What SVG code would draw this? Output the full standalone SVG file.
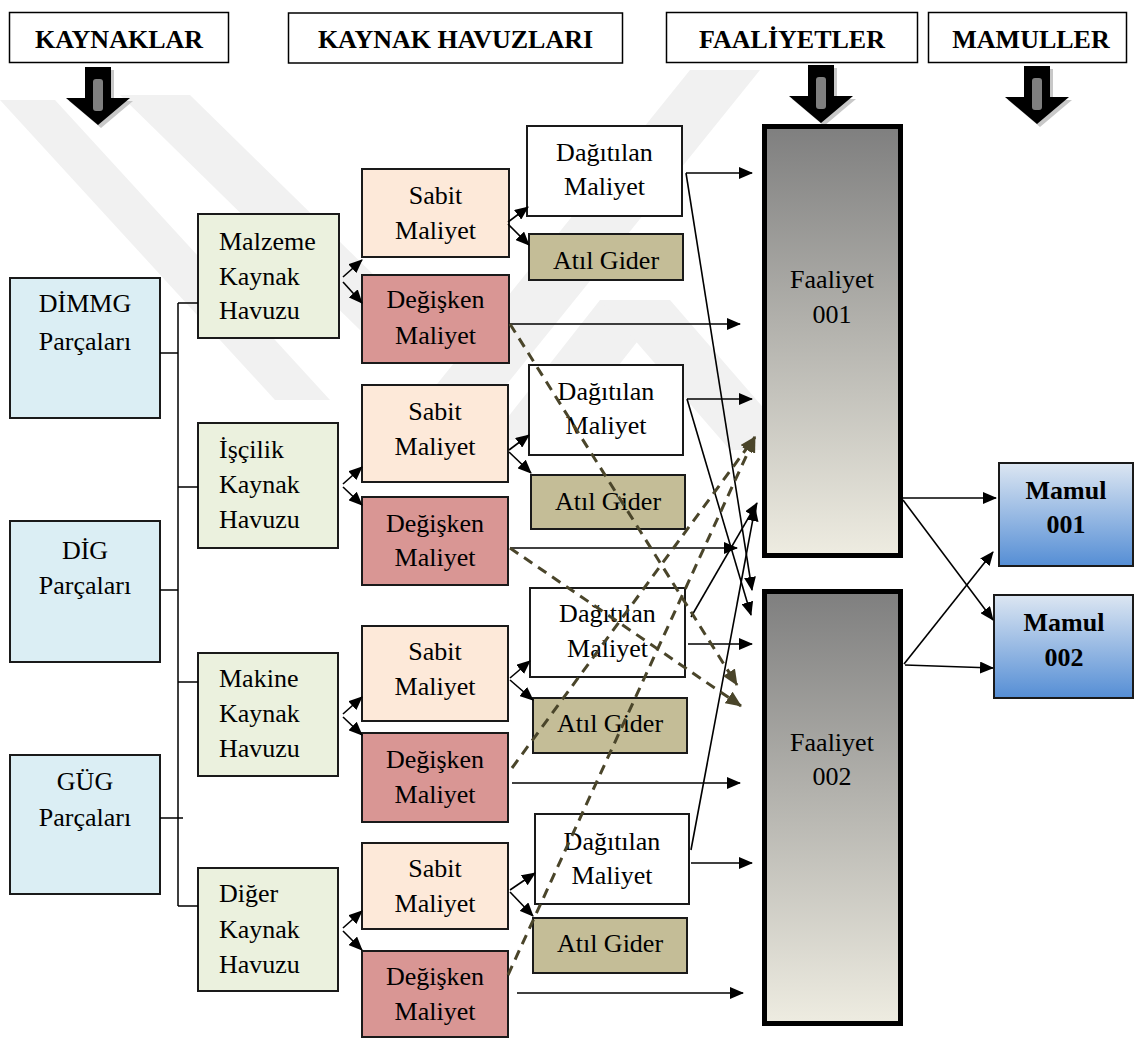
<svg xmlns="http://www.w3.org/2000/svg" width="1135" height="1039" viewBox="0 0 1135 1039">
  <defs>
    <style>
      text { font-family: "Liberation Serif", "Times New Roman", serif; font-size: 26px; fill: #000; }
      .c { text-anchor: middle; }
      .b { font-weight: bold; }
      .hdr { fill: #fff; stroke: #000; stroke-width: 1.5; }
      .box { stroke: #1a1a1a; stroke-width: 2; }
      .src { fill: #DBEEF4; }
      .pool { fill: #EBF1DE; }
      .fix { fill: #FDE9D9; }
      .var { fill: #D99694; }
      .dist { fill: #fff; }
      .idle { fill: #C4BD97; }
      .act { stroke: #000; stroke-width: 5; fill: url(#actGrad); }
      .prod { stroke: #1a1a1a; stroke-width: 2; fill: url(#prodGrad); }
      .bus { stroke: #000; stroke-width: 1.5; fill: none; }
      .ln { stroke: #000; stroke-width: 1.6; fill: none; marker-end: url(#ah); }
      .dl { stroke: #4A452A; stroke-width: 3; stroke-dasharray: 10 7; fill: none; marker-end: url(#ahd); }
      .wm { fill: #F1F1F1; }
    </style>
    <linearGradient id="actGrad" x1="0" y1="0" x2="0" y2="1">
      <stop offset="0" stop-color="#7F7F7F"/>
      <stop offset="1" stop-color="#EEECE1"/>
    </linearGradient>
    <linearGradient id="prodGrad" x1="0" y1="0" x2="0" y2="1">
      <stop offset="0" stop-color="#DCE6F2"/>
      <stop offset="1" stop-color="#558ED5"/>
    </linearGradient>
    <marker id="ah" markerUnits="userSpaceOnUse" viewBox="0 0 14 12" refX="13" refY="6" markerWidth="14" markerHeight="12" orient="auto">
      <path d="M0,0 L14,6 L0,12 Z" fill="#000"/>
    </marker>
    <marker id="ahd" markerUnits="userSpaceOnUse" viewBox="0 0 16 14" refX="15" refY="7" markerWidth="16" markerHeight="14" orient="auto">
      <path d="M0,0 L16,7 L0,14 Z" fill="#4A452A"/>
    </marker>
    <!-- downward block arrow, origin at top centre of the shaft -->
    <g id="blockArrow">
      <path d="M-13,0 H13 V31 H32 L0,58 L-32,31 H-13 Z" fill="#C8C8C8" transform="translate(3,3)"/>
      <path d="M-13,0 H13 V31 H32 L0,58 L-32,31 H-13 Z" fill="#000"/>
      <rect x="-5" y="12" width="10" height="32" rx="3" fill="#7F7F7F"/>
    </g>
  </defs>

  <rect width="1135" height="1039" fill="#fff"/>

  <!-- faint background watermark bands -->
  <g id="watermark">
    <polygon class="wm" points="0,100 55,100 330,400 275,400"/>
    <polygon class="wm" points="120,95 190,95 430,330 360,330"/>
    <polygon class="wm" points="690,70 760,70 470,430 400,430"/>
    <polygon class="wm" points="600,300 670,300 560,440 490,440"/>
    <polygon class="wm" points="600,300 670,300 800,450 730,450"/>
  </g>

  <!-- column headers -->
  <g id="hdr-kaynaklar">
    <rect class="hdr" x="9.5" y="12.5" width="219" height="50"/>
    <text class="c b" x="119" y="48">KAYNAKLAR</text>
  </g>
  <g id="hdr-havuzlar">
    <rect class="hdr" x="288.5" y="13" width="334" height="50"/>
    <text class="c b" x="455.5" y="48">KAYNAK HAVUZLARI</text>
  </g>
  <g id="hdr-faaliyetler">
    <rect class="hdr" x="666.5" y="12.5" width="251" height="50"/>
    <text class="c b" x="792" y="48">FAALİYETLER</text>
  </g>
  <g id="hdr-mamuller">
    <rect class="hdr" x="928.5" y="12.5" width="198" height="50"/>
    <text class="c b" x="1031" y="48">MAMULLER</text>
  </g>
  <use href="#blockArrow" transform="translate(98,67)"/>
  <use href="#blockArrow" transform="translate(821,65)"/>
  <use href="#blockArrow" transform="translate(1037,66)"/>

  <!-- resources -->
  <g id="src-dimmg">
    <rect class="box src" x="10" y="278" width="150" height="140"/>
    <text class="c" x="85" y="312">DİMMG</text>
    <text class="c" x="85" y="350">Parçaları</text>
  </g>
  <g id="src-dig">
    <rect class="box src" x="10" y="521" width="150" height="141"/>
    <text class="c" x="85" y="559">DİG</text>
    <text class="c" x="85" y="594">Parçaları</text>
  </g>
  <g id="src-gug">
    <rect class="box src" x="10" y="755" width="150" height="139"/>
    <text class="c" x="85" y="790">GÜG</text>
    <text class="c" x="85" y="826">Parçaları</text>
  </g>

  <!-- resource pools -->
  <g id="pool-malzeme">
    <rect class="box pool" x="198" y="214" width="141" height="124"/>
    <text x="219" y="250">Malzeme</text>
    <text x="219" y="285">Kaynak</text>
    <text x="219" y="319">Havuzu</text>
  </g>
  <g id="pool-iscilik">
    <rect class="box pool" x="198" y="423" width="140" height="125"/>
    <text x="219" y="458">İşçilik</text>
    <text x="219" y="493">Kaynak</text>
    <text x="219" y="528">Havuzu</text>
  </g>
  <g id="pool-makine">
    <rect class="box pool" x="198" y="653" width="140" height="123"/>
    <text x="219" y="687">Makine</text>
    <text x="219" y="722">Kaynak</text>
    <text x="219" y="757">Havuzu</text>
  </g>
  <g id="pool-diger">
    <rect class="box pool" x="198" y="868" width="140" height="123"/>
    <text x="219" y="902">Diğer</text>
    <text x="219" y="938">Kaynak</text>
    <text x="219" y="973">Havuzu</text>
  </g>

  <!-- fixed / variable costs -->
  <g id="fix-1">
    <rect class="box fix" x="362" y="169" width="147" height="88"/>
    <text class="c" x="435.5" y="204">Sabit</text>
    <text class="c" x="435.5" y="239">Maliyet</text>
  </g>
  <g id="var-1">
    <rect class="box var" x="362" y="275" width="147" height="88"/>
    <text class="c" x="435.5" y="308">Değişken</text>
    <text class="c" x="435.5" y="344">Maliyet</text>
  </g>
  <g id="fix-2">
    <rect class="box fix" x="362" y="385" width="146" height="97"/>
    <text class="c" x="435" y="420">Sabit</text>
    <text class="c" x="435" y="455">Maliyet</text>
  </g>
  <g id="var-2">
    <rect class="box var" x="362" y="497" width="146" height="88"/>
    <text class="c" x="435" y="532">Değişken</text>
    <text class="c" x="435" y="566">Maliyet</text>
  </g>
  <g id="fix-3">
    <rect class="box fix" x="362" y="626" width="146" height="95"/>
    <text class="c" x="435" y="660">Sabit</text>
    <text class="c" x="435" y="695">Maliyet</text>
  </g>
  <g id="var-3">
    <rect class="box var" x="362" y="733" width="146" height="89"/>
    <text class="c" x="435" y="768">Değişken</text>
    <text class="c" x="435" y="803">Maliyet</text>
  </g>
  <g id="fix-4">
    <rect class="box fix" x="362" y="843" width="146" height="86"/>
    <text class="c" x="435" y="877">Sabit</text>
    <text class="c" x="435" y="912">Maliyet</text>
  </g>
  <g id="var-4">
    <rect class="box var" x="362" y="951" width="146" height="86"/>
    <text class="c" x="435" y="985">Değişken</text>
    <text class="c" x="435" y="1020">Maliyet</text>
  </g>

  <!-- distributed cost / idle expense -->
  <g id="dist-1">
    <rect class="box dist" x="527" y="126" width="155" height="90"/>
    <text class="c" x="604.5" y="161">Dağıtılan</text>
    <text class="c" x="604.5" y="195">Maliyet</text>
  </g>
  <g id="idle-1">
    <rect class="box idle" x="529" y="234" width="154" height="46"/>
    <text class="c" x="606" y="269">Atıl Gider</text>
  </g>
  <g id="dist-2">
    <rect class="box dist" x="529" y="365" width="154" height="90"/>
    <text class="c" x="606" y="400">Dağıtılan</text>
    <text class="c" x="606" y="434">Maliyet</text>
  </g>
  <g id="idle-2">
    <rect class="box idle" x="531" y="475" width="154" height="54"/>
    <text class="c" x="608" y="510">Atıl Gider</text>
  </g>
  <g id="dist-3">
    <rect class="box dist" x="530" y="588" width="155" height="89"/>
    <text class="c" x="607.5" y="622">Dağıtılan</text>
    <text class="c" x="607.5" y="657">Maliyet</text>
  </g>
  <g id="idle-3">
    <rect class="box idle" x="533" y="698" width="154" height="55"/>
    <text class="c" x="610" y="732">Atıl Gider</text>
  </g>
  <g id="dist-4">
    <rect class="box dist" x="535" y="814" width="154" height="90"/>
    <text class="c" x="612" y="850">Dağıtılan</text>
    <text class="c" x="612" y="884">Maliyet</text>
  </g>
  <g id="idle-4">
    <rect class="box idle" x="533" y="918" width="154" height="55"/>
    <text class="c" x="610" y="952">Atıl Gider</text>
  </g>

  <!-- activities -->
  <g id="act-001">
    <rect class="act" x="764.5" y="126.5" width="136" height="429"/>
    <text class="c" x="832" y="288">Faaliyet</text>
    <text class="c" x="832" y="323">001</text>
  </g>
  <g id="act-002">
    <rect class="act" x="764.5" y="591.5" width="136" height="432"/>
    <text class="c" x="832" y="751">Faaliyet</text>
    <text class="c" x="832" y="785">002</text>
  </g>

  <!-- products -->
  <g id="prod-001">
    <rect class="prod" x="999" y="463" width="134" height="103"/>
    <text class="c b" x="1066" y="499">Mamul</text>
    <text class="c b" x="1066" y="533">001</text>
  </g>
  <g id="prod-002">
    <rect class="prod" x="994" y="595" width="139" height="103"/>
    <text class="c b" x="1064" y="631">Mamul</text>
    <text class="c b" x="1064" y="666">002</text>
  </g>

  <!-- connectors, drawn over the boxes -->
  <g id="connectors">
    <!-- bus from sources to pools -->
    <path class="bus" d="M178,303 V906 M160,353 H178 M160,590 H178 M160,818 H183 M178,303 H198 M178,487 H198 M178,682 H198 M178,906 H198"/>

    <!-- pools to fixed / variable cost -->
    <path class="ln" d="M343,277 L362,260"/>
    <path class="ln" d="M343,282 L362,303"/>
    <path class="ln" d="M343,484 L362,467"/>
    <path class="ln" d="M343,487 L362,505"/>
    <path class="ln" d="M343,714 L362,697"/>
    <path class="ln" d="M343,717 L362,735"/>
    <path class="ln" d="M343,928 L362,911"/>
    <path class="ln" d="M343,931 L362,950"/>

    <!-- fixed cost to distributed cost / idle expense -->
    <path class="ln" d="M508,222 L528,207"/>
    <path class="ln" d="M508,224 L529,245"/>
    <path class="ln" d="M509,450 L529,435"/>
    <path class="ln" d="M509,452 L531,473"/>
    <path class="ln" d="M510,678 L530,661"/>
    <path class="ln" d="M510,680 L533,700"/>
    <path class="ln" d="M510,890 L535,873"/>
    <path class="ln" d="M510,892 L533,916"/>

    <!-- variable cost to activities -->
    <path class="ln" d="M510,324 L740,324"/>
    <path class="ln" d="M510,548 L737,548"/>
    <path class="ln" d="M512,783 L740,783"/>
    <path class="ln" d="M517,993 L743,993"/>

    <!-- distributed cost to activities -->
    <path class="ln" d="M686,173 L752,173"/>
    <path class="ln" d="M686,173 L752,590"/>
    <path class="ln" d="M687,399 L752,399"/>
    <path class="ln" d="M687,399 L751,615"/>
    <path class="ln" d="M688,644 L752,644"/>
    <path class="ln" d="M691,617 L757,503"/>
    <path class="ln" d="M691,863 L752,863"/>
    <path class="ln" d="M691,850 L755,508"/>

    <!-- variable cost shared across activities -->
    <path class="dl" d="M510,324 L737,685"/>
    <path class="dl" d="M510,548 L741,706"/>
    <path class="dl" d="M512,768 L755,437"/>
    <path class="dl" d="M508,975 L755,437"/>

    <!-- activities to products -->
    <path class="ln" d="M903,498 L996,498"/>
    <path class="ln" d="M903,500 L993,620"/>
    <path class="ln" d="M904,664 L993,552"/>
    <path class="ln" d="M905,665 L993,668"/>
  </g>
</svg>
